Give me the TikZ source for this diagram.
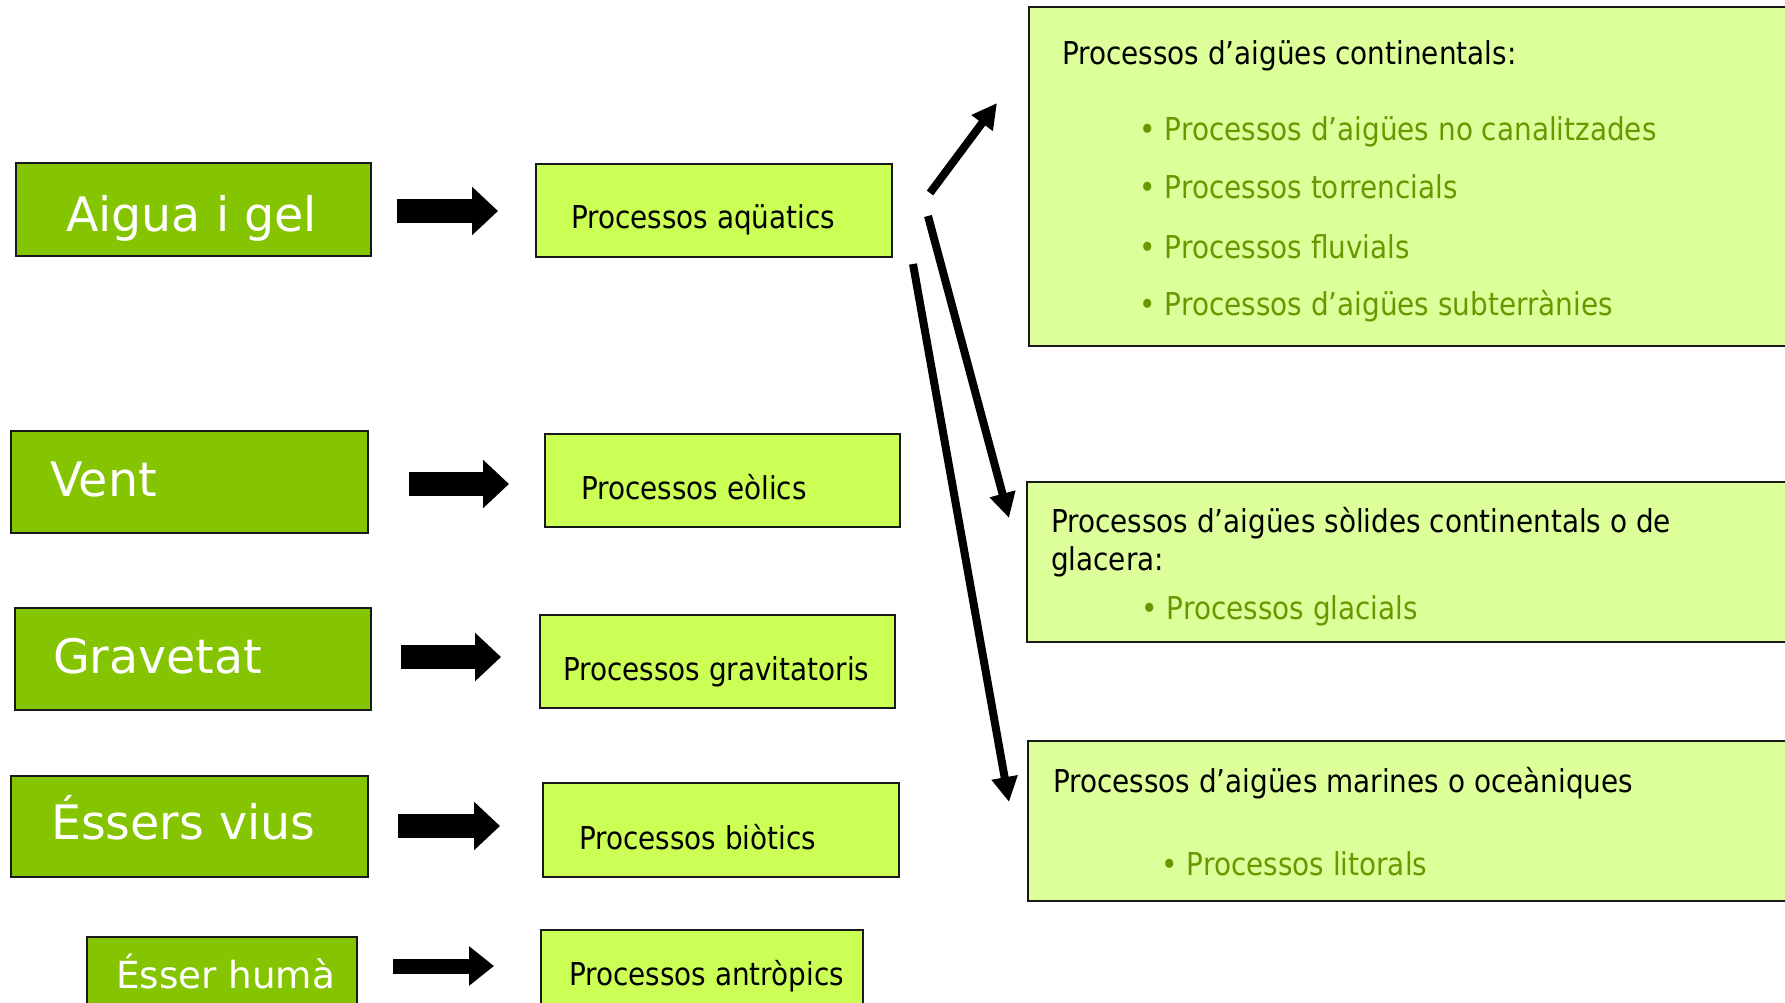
\documentclass[tikz,border=0pt]{standalone}
\usepackage{fontspec}
\usetikzlibrary{arrows.meta,calc}
\newfontfamily\forcefont{DejaVu Sans}
\newfontfamily\procfont[FakeStretch=0.885]{DejaVu Sans}
\definecolor{forcefill}{RGB}{133,196,0}
\definecolor{procfill}{RGB}{204,255,85}
\definecolor{typefill}{RGB}{221,255,153}
\definecolor{subgreen}{RGB}{102,153,0}
\definecolor{edge}{RGB}{25,25,25}

\begin{document}
\begin{tikzpicture}[x=1pt,y=-1pt,
  box/.style={draw=edge, line width=2.5pt, rectangle, inner sep=0pt, outer sep=0pt, anchor=north west},
  forcebox/.style={box, fill=forcefill},
  procbox/.style={box, fill=procfill},
  typebox/.style={box, fill=typefill},
  txt/.style={anchor=base west, inner sep=0pt, outer sep=0pt},
  forcelabel/.style={txt, text=white, font=\forcefont\fontsize{47.5pt}{57pt}\selectfont},
  proclabel/.style={txt, text=black, font=\procfont\fontsize{31.5pt}{38pt}\selectfont},
  sublabel/.style={proclabel, text=subgreen},
  blockarrow/.style={draw=black, line width=24pt, -{Triangle[length=26pt,width=47pt]}},
  smallblockarrow/.style={draw=black, line width=15pt, -{Triangle[length=25pt,width=38pt]}},
  linkarrow/.style={draw=black, line width=8pt, -{Triangle[length=25pt,width=25pt]}}
]
\useasboundingbox (0,0) rectangle (1785,1003);
\clip (0,0) rectangle (1785,1003);

% agents
\node[forcebox, minimum width=355pt, minimum height=93pt]  (f1) at (16,163) {};
\node[forcebox, minimum width=357pt, minimum height=102pt] (f2) at (11,431) {};
\node[forcebox, minimum width=356pt, minimum height=102pt] (f3) at (15,608) {};
\node[forcebox, minimum width=357pt, minimum height=101pt] (f4) at (11,776) {};
\node[forcebox, minimum width=270pt, minimum height=100pt] (f5) at (87,937) {};

\node[forcelabel] (f1t) at (66,232) {Aigua i gel};
\node[forcelabel] (f2t) at (50,496) {Vent};
\node[forcelabel] (f3t) at (53,673) {Gravetat};
\node[forcelabel] (f4t) at (51,839) {Éssers vius};
\node[forcelabel, font=\forcefont\fontsize{37.3pt}{44pt}\selectfont] (f5t) at (116,988) {Ésser humà};

% processes
\node[procbox, minimum width=356pt, minimum height=93pt] (p1) at (536,164) {};
\node[procbox, minimum width=355pt, minimum height=93pt] (p2) at (545,434) {};
\node[procbox, minimum width=355pt, minimum height=93pt] (p3) at (540,615) {};
\node[procbox, minimum width=356pt, minimum height=94pt] (p4) at (543,783) {};
\node[procbox, minimum width=322pt, minimum height=100pt] (p5) at (541,930) {};

\node[proclabel] (p1t) at (571,229) {Processos aqüatics};
\node[proclabel] (p2t) at (581,499) {Processos eòlics};
\node[proclabel] (p3t) at (563,680) {Processos gravitatoris};
\node[proclabel] (p4t) at (579,849) {Processos biòtics};
\node[proclabel] (p5t) at (569,985) {Processos antròpics};

% kinds of water processes
\node[typebox, minimum width=800pt, minimum height=339pt] (r1) at (1029,7) {};
\node[typebox, minimum width=800pt, minimum height=160pt] (r2) at (1027,482) {};
\node[typebox, minimum width=800pt, minimum height=160pt] (r3) at (1028,741) {};

\node[proclabel] (r1t) at (1062,65) {Processos d’aigües continentals:};
\node[sublabel] (r1a) at (1139.5,141) {• Processos d’aigües no canalitzades};
\node[sublabel] (r1b) at (1139.5,199) {• Processos torrencials};
\node[sublabel] (r1c) at (1139.5,258) {• Processos fluvials};
\node[sublabel] (r1d) at (1139.5,315) {• Processos d’aigües subterrànies};

\node[proclabel] (r2t) at (1051,532) {Processos d’aigües sòlides continentals o de};
\node[proclabel] (r2u) at (1051,570) {glacera:};
\node[sublabel] (r2a) at (1141.5,619) {• Processos glacials};

\node[proclabel] (r3t) at (1053,792) {Processos d’aigües marines o oceàniques};
\node[sublabel] (r3a) at (1161.5,875) {• Processos litorals};

% agent -> process arrows
\draw[blockarrow] ($(f1.east)+(26,1.5)$) -- ($(f1.east -| p1.west)+(-38,1.5)$);
\draw[blockarrow] ($(f2.east)+(41,2)$) -- ($(f2.east -| p2.west)+(-36,2)$);
\draw[blockarrow] ($(f3.east)+(30,-2)$) -- ($(f3.east -| p3.west)+(-39,-2)$);
\draw[blockarrow] ($(f4.east)+(30,-0.5)$) -- ($(f4.east -| p4.west)+(-43,-0.5)$);
\draw[smallblockarrow] ($(f5.east)+(36,-21)$) -- ($(f5.east -| p5.west)+(-47,-21)$);

% water processes -> kinds
\draw[linkarrow] ($(p1.east)+(38,-17.5)$) -- ($(r1.west)+(-32,-73.5)$);
\draw[linkarrow] ($(p1.east)+(36,5.5)$) -- ($(r2.west)+(-18,-44)$);
\draw[linkarrow] ($(p1.east)+(21,53.5)$) -- ($(r3.west)+(-19,-19)$);
\end{tikzpicture}
\end{document}
